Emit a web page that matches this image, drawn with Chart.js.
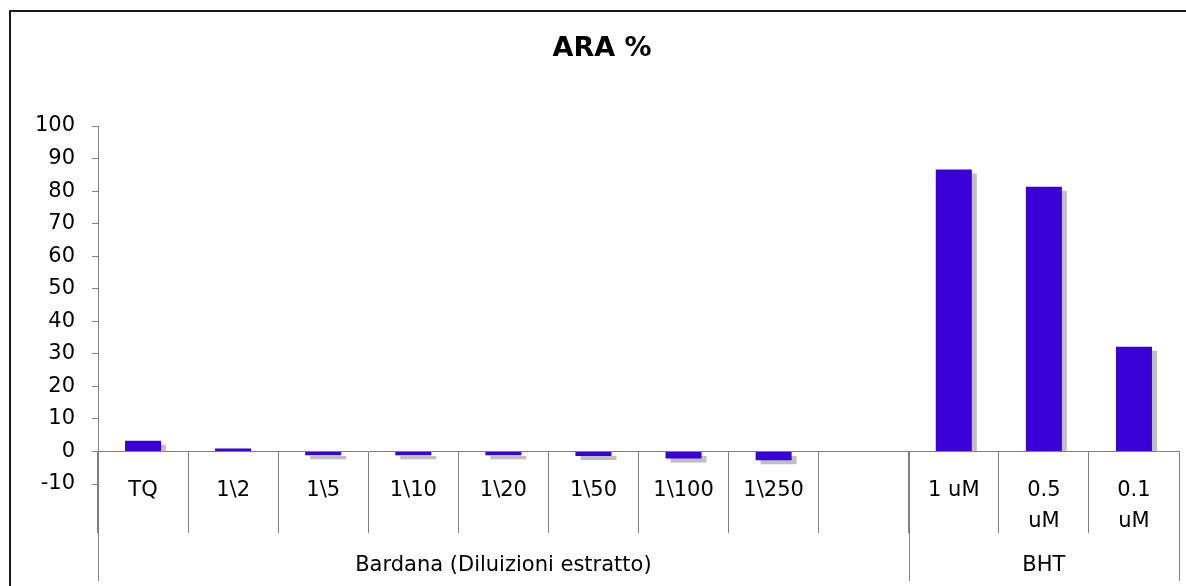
<!DOCTYPE html>
<html>
<head>
<meta charset="utf-8">
<script src="https://cdn.jsdelivr.net/npm/chart.js@4/dist/chart.umd.min.js"></script>
<style>
  html, body { margin: 0; padding: 0; background: #fff; overflow: hidden; }
  #wrap { width: 1204px; height: 600px; }
</style>
</head>
<body>
<div id="wrap"><canvas id="araChart"></canvas></div>
<script>
// dati
const categories = ['TQ', '1\\2', '1\\5', '1\\10', '1\\20', '1\\50', '1\\100', '1\\250', '', '1 uM', ['0.5', 'uM'], ['0.1', 'uM']];
const araValues = [3.3, 0.9, -1.2, -1.2, -1.2, -1.4, -2.2, -2.7, null, 86.6, 81.3, 32.2];
const groupLabels = ['Bardana (Diluizioni estratto)', 'BHT'];
const groupStart = [0, 9];
const groupEnd = [8, 11];
const yTicks = [-10, 0, 10, 20, 30, 40, 50, 60, 70, 80, 90, 100];
const chartTitle = 'ARA %';

const FONT = "'DejaVu Sans', Verdana, sans-serif";
const AXIS_GRAY = '#808080';

// ombra grigia delle barre, presa dalla geometria degli elementi
const barShadow = {
  id: 'barShadow',
  beforeDatasetDraw(chart, args) {
    const ctx = chart.ctx;
    const meta = chart.getDatasetMeta(args.index);
    ctx.save();
    ctx.fillStyle = '#c0c0c0';
    meta.data.forEach(bar => {
      if (bar.skip || bar.y == null || isNaN(bar.y)) return;
      const left = bar.x - bar.width / 2 + 5;
      const top = Math.min(bar.y, bar.base);
      const bottom = Math.max(bar.y, bar.base);
      if (bar.y <= bar.base) {
        ctx.fillRect(left, top + 4, bar.width, Math.max(0, bottom - top - 4));
      } else {
        ctx.fillRect(left, top + 4, bar.width, bottom - top);
      }
    });
    ctx.restore();
  }
};

// cornice, titolo, gruppi di categorie e prolungamento asse
const frameAndGroups = {
  id: 'frameAndGroups',
  afterDraw(chart) {
    const ctx = chart.ctx;
    const x = chart.scales.x;
    const y = chart.scales.y;
    const half = (x.getPixelForValue(1) - x.getPixelForValue(0)) / 2;
    const zeroY = y.getPixelForValue(0);
    const bottomY = 581;

    ctx.save();
    // cornice esterna
    ctx.strokeStyle = '#1a1a1a';
    ctx.lineWidth = 2;
    ctx.beginPath();
    ctx.moveTo(10, 600);
    ctx.lineTo(10, 11);
    ctx.lineTo(chart.width, 11);
    ctx.stroke();

    // titolo
    ctx.fillStyle = '#000';
    ctx.textAlign = 'center';
    ctx.textBaseline = 'middle';
    ctx.font = 'bold 27px ' + FONT;
    ctx.fillText(chartTitle, chart.width / 2, 49);

    ctx.strokeStyle = AXIS_GRAY;
    ctx.lineWidth = 1;
    // asse y prolungato
    ctx.beginPath();
    ctx.moveTo(Math.round(y.right) + 0.5, y.bottom);
    ctx.lineTo(Math.round(y.right) + 0.5, bottomY);
    ctx.stroke();

    ctx.font = '21px ' + FONT;
    groupLabels.forEach((lbl, i) => {
      const left = x.getPixelForValue(groupStart[i]) - half;
      const right = x.getPixelForValue(groupEnd[i]) + half;
      [left, right].forEach(px => {
        ctx.beginPath();
        ctx.moveTo(Math.round(px) + 0.5, zeroY);
        ctx.lineTo(Math.round(px) + 0.5, bottomY);
        ctx.stroke();
      });
      ctx.fillText(lbl, (left + right) / 2, 566);
    });
    ctx.restore();
  }
};

new Chart(document.getElementById('araChart'), {
  type: 'bar',
  data: {
    labels: categories,
    datasets: [{
      label: chartTitle,
      data: araValues,
      backgroundColor: '#3A00D6',
      borderWidth: 0,
      barPercentage: 0.4,
      categoryPercentage: 1
    }]
  },
  options: {
    responsive: true,
    maintainAspectRatio: false,
    animation: false,
    layout: { padding: { left: 0, right: 25, top: 126, bottom: 116 } },
    plugins: {
      legend: { display: false },
      tooltip: { enabled: false },
      title: { display: false }
    },
    scales: {
      x: {
        position: { y: 0 },
        grid: {
          offset: true,
          drawOnChartArea: false,
          tickLength: 81,
          color: AXIS_GRAY
        },
        border: { color: AXIS_GRAY },
        ticks: {
          color: '#000',
          autoSkip: false,
          maxRotation: 0,
          padding: -58,
          font: { family: FONT, size: 21, lineHeight: 1.5 }
        }
      },
      y: {
        min: -10,
        max: 100,
        afterFit: scale => { scale.width = 98; },
        afterBuildTicks: scale => { scale.ticks = yTicks.map(v => ({ value: v })); },
        grid: { drawOnChartArea: false, tickLength: 6, color: AXIS_GRAY },
        border: { color: AXIS_GRAY },
        ticks: {
          color: '#000',
          padding: 17,
          font: { family: FONT, size: 21 }
        }
      }
    }
  },
  plugins: [barShadow, frameAndGroups]
});
</script>
</body>
</html>
